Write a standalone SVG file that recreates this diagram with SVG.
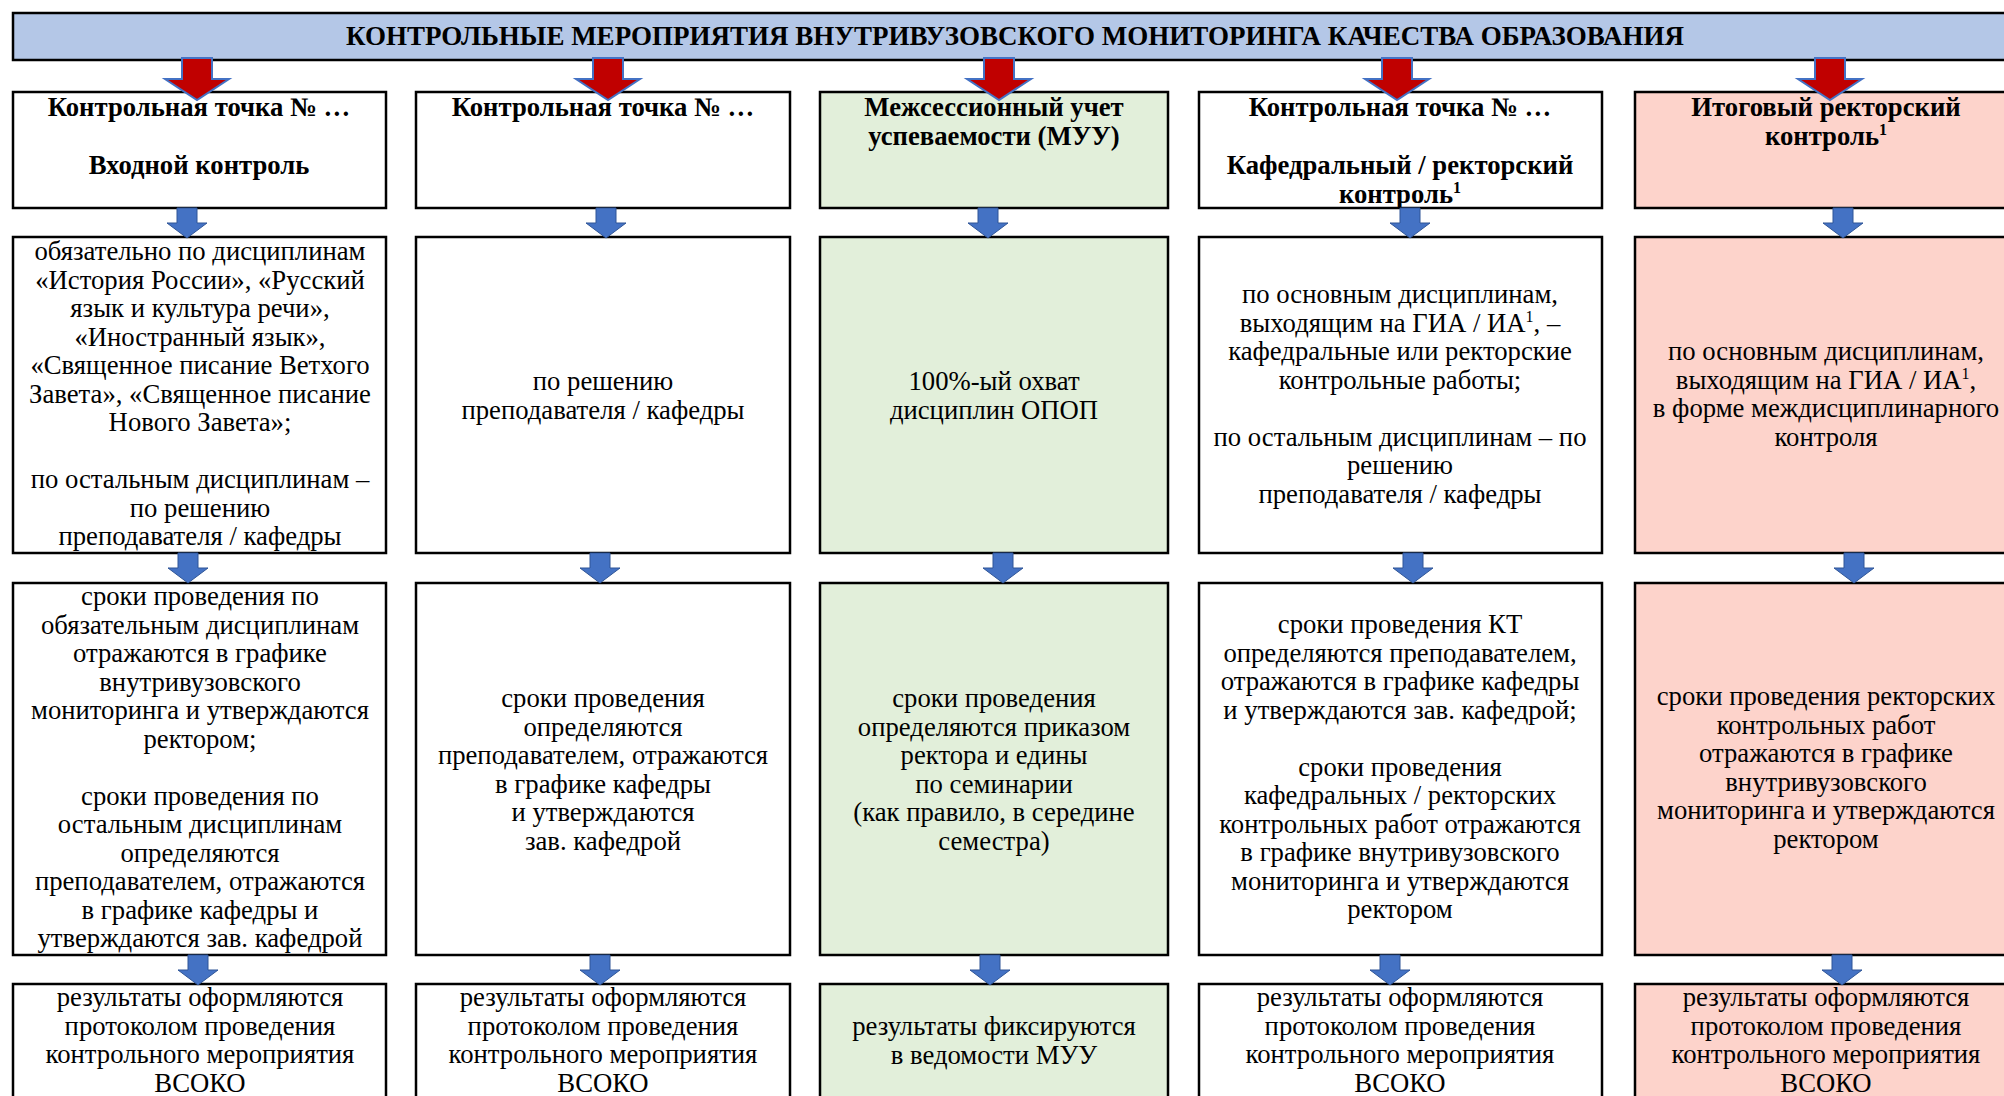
<svg xmlns="http://www.w3.org/2000/svg" width="2004" height="1096" viewBox="0 0 2004 1096">
<style>
.box{stroke:#000;stroke-width:2.5}
.w{fill:#fff}.g{fill:#E2EFDA}.p{fill:#FDD3CB}.h{fill:#B4C7E7}
text{font-family:"Liberation Serif","Times New Roman",serif;font-size:26.7px;fill:#000;text-anchor:middle}
.b{font-weight:bold}
.t{font-weight:bold;font-size:27px}
.sup{font-size:16px}
.ra{fill:#C00000;stroke:#4472C4;stroke-width:2}
.ba{fill:#4472C4;stroke:#2F5597;stroke-width:1}
</style>
<defs>
<path id="redArrow" class="ra" d="M-15,0 H15 V21 H32 L0,42 L-32,21 H-15 Z"/>
<path id="blueArrow" class="ba" d="M-10,0 H10 V15 H20 L0,30 L-20,15 H-10 Z"/>
</defs>
<rect width="2004" height="1096" fill="#fff"/>

<g id="header">
<rect class="box h" x="13" y="13" width="2010" height="47"/>
<text class="t" x="1015" y="45">КОНТРОЛЬНЫЕ МЕРОПРИЯТИЯ ВНУТРИВУЗОВСКОГО МОНИТОРИНГА КАЧЕСТВА ОБРАЗОВАНИЯ</text>
</g>

<!-- Column 1 -->
<g id="c1r1">
<rect class="box w" x="13" y="92" width="373" height="116"/>
<text class="b"><tspan x="199" y="116">Контрольная точка № …</tspan><tspan x="199" y="174">Входной контроль</tspan></text>
</g>
<g id="c1r2">
<rect class="box w" x="13" y="237" width="373" height="316"/>
<text><tspan x="200" y="260">обязательно по дисциплинам</tspan><tspan x="200" y="288.5">«История России», «Русский</tspan><tspan x="200" y="317">язык и культура речи»,</tspan><tspan x="200" y="345.5">«Иностранный язык»,</tspan><tspan x="200" y="374">«Священное писание Ветхого</tspan><tspan x="200" y="402.5">Завета», «Священное писание</tspan><tspan x="200" y="431">Нового Завета»;</tspan><tspan x="200" y="488">по остальным дисциплинам –</tspan><tspan x="200" y="516.5">по решению</tspan><tspan x="200" y="545">преподавателя / кафедры</tspan></text>
</g>
<g id="c1r3">
<rect class="box w" x="13" y="583" width="373" height="372"/>
<text><tspan x="200" y="605">сроки проведения по</tspan><tspan x="200" y="633.5">обязательным дисциплинам</tspan><tspan x="200" y="662">отражаются в графике</tspan><tspan x="200" y="690.5">внутривузовского</tspan><tspan x="200" y="719">мониторинга и утверждаются</tspan><tspan x="200" y="747.5">ректором;</tspan><tspan x="200" y="804.5">сроки проведения по</tspan><tspan x="200" y="833">остальным дисциплинам</tspan><tspan x="200" y="861.5">определяются</tspan><tspan x="200" y="890">преподавателем, отражаются</tspan><tspan x="200" y="918.5">в графике кафедры и</tspan><tspan x="200" y="947">утверждаются зав. кафедрой</tspan></text>
</g>
<g id="c1r4">
<rect class="box w" x="13" y="984" width="373" height="130"/>
<text><tspan x="200" y="1006">результаты оформляются</tspan><tspan x="200" y="1034.5">протоколом проведения</tspan><tspan x="200" y="1063">контрольного мероприятия</tspan><tspan x="200" y="1091.5">ВСОКО</tspan></text>
</g>

<!-- Column 2 -->
<g id="c2r1">
<rect class="box w" x="416" y="92" width="374" height="116"/>
<text class="b"><tspan x="603" y="116">Контрольная точка № …</tspan></text>
</g>
<g id="c2r2">
<rect class="box w" x="416" y="237" width="374" height="316"/>
<text><tspan x="603" y="390">по решению</tspan><tspan x="603" y="418.5">преподавателя / кафедры</tspan></text>
</g>
<g id="c2r3">
<rect class="box w" x="416" y="583" width="374" height="372"/>
<text><tspan x="603" y="707">сроки проведения</tspan><tspan x="603" y="735.5">определяются</tspan><tspan x="603" y="764">преподавателем, отражаются</tspan><tspan x="603" y="792.5">в графике кафедры</tspan><tspan x="603" y="821">и утверждаются</tspan><tspan x="603" y="849.5">зав. кафедрой</tspan></text>
</g>
<g id="c2r4">
<rect class="box w" x="416" y="984" width="374" height="130"/>
<text><tspan x="603" y="1006">результаты оформляются</tspan><tspan x="603" y="1034.5">протоколом проведения</tspan><tspan x="603" y="1063">контрольного мероприятия</tspan><tspan x="603" y="1091.5">ВСОКО</tspan></text>
</g>

<!-- Column 3 -->
<g id="c3r1">
<rect class="box g" x="820" y="92" width="348" height="116"/>
<text class="b"><tspan x="994" y="116">Межсессионный учет</tspan><tspan x="994" y="145">успеваемости (МУУ)</tspan></text>
</g>
<g id="c3r2">
<rect class="box g" x="820" y="237" width="348" height="316"/>
<text><tspan x="994" y="390">100%-ый охват</tspan><tspan x="994" y="418.5">дисциплин ОПОП</tspan></text>
</g>
<g id="c3r3">
<rect class="box g" x="820" y="583" width="348" height="372"/>
<text><tspan x="994" y="707">сроки проведения</tspan><tspan x="994" y="735.5">определяются приказом</tspan><tspan x="994" y="764">ректора и едины</tspan><tspan x="994" y="792.5">по семинарии</tspan><tspan x="994" y="821">(как правило, в середине</tspan><tspan x="994" y="849.5">семестра)</tspan></text>
</g>
<g id="c3r4">
<rect class="box g" x="820" y="984" width="348" height="130"/>
<text><tspan x="994" y="1035">результаты фиксируются</tspan><tspan x="994" y="1063.5">в ведомости МУУ</tspan></text>
</g>

<!-- Column 4 -->
<g id="c4r1">
<rect class="box w" x="1199" y="92" width="403" height="116"/>
<text class="b"><tspan x="1400" y="116">Контрольная точка № …</tspan><tspan x="1400" y="174">Кафедральный / ректорский</tspan><tspan x="1400" y="203">контроль</tspan><tspan class="sup" dy="-10">1</tspan></text>
</g>
<g id="c4r2">
<rect class="box w" x="1199" y="237" width="403" height="316"/>
<text><tspan x="1400" y="303">по основным дисциплинам,</tspan><tspan x="1400" y="331.5">выходящим на ГИА / ИА</tspan><tspan class="sup" dy="-10">1</tspan><tspan dy="10">, –</tspan><tspan x="1400" y="360">кафедральные или ректорские</tspan><tspan x="1400" y="388.5">контрольные работы;</tspan><tspan x="1400" y="445.5">по остальным дисциплинам – по</tspan><tspan x="1400" y="474">решению</tspan><tspan x="1400" y="502.5">преподавателя / кафедры</tspan></text>
</g>
<g id="c4r3">
<rect class="box w" x="1199" y="583" width="403" height="372"/>
<text><tspan x="1400" y="633">сроки проведения КТ</tspan><tspan x="1400" y="661.5">определяются преподавателем,</tspan><tspan x="1400" y="690">отражаются в графике кафедры</tspan><tspan x="1400" y="718.5">и утверждаются зав. кафедрой;</tspan><tspan x="1400" y="775.5">сроки проведения</tspan><tspan x="1400" y="804">кафедральных / ректорских</tspan><tspan x="1400" y="832.5">контрольных работ отражаются</tspan><tspan x="1400" y="861">в графике внутривузовского</tspan><tspan x="1400" y="889.5">мониторинга и утверждаются</tspan><tspan x="1400" y="918">ректором</tspan></text>
</g>
<g id="c4r4">
<rect class="box w" x="1199" y="984" width="403" height="130"/>
<text><tspan x="1400" y="1006">результаты оформляются</tspan><tspan x="1400" y="1034.5">протоколом проведения</tspan><tspan x="1400" y="1063">контрольного мероприятия</tspan><tspan x="1400" y="1091.5">ВСОКО</tspan></text>
</g>

<!-- Column 5 -->
<g id="c5r1">
<rect class="box p" x="1635" y="92" width="383" height="116"/>
<text class="b"><tspan x="1826" y="116">Итоговый ректорский</tspan><tspan x="1826" y="145">контроль</tspan><tspan class="sup" dy="-10">1</tspan></text>
</g>
<g id="c5r2">
<rect class="box p" x="1635" y="237" width="383" height="316"/>
<text><tspan x="1826" y="360">по основным дисциплинам,</tspan><tspan x="1826" y="388.5">выходящим на ГИА / ИА</tspan><tspan class="sup" dy="-10">1</tspan><tspan dy="10">,</tspan><tspan x="1826" y="417">в форме междисциплинарного</tspan><tspan x="1826" y="445.5">контроля</tspan></text>
</g>
<g id="c5r3">
<rect class="box p" x="1635" y="583" width="383" height="372"/>
<text><tspan x="1826" y="705">сроки проведения ректорских</tspan><tspan x="1826" y="733.5">контрольных работ</tspan><tspan x="1826" y="762">отражаются в графике</tspan><tspan x="1826" y="790.5">внутривузовского</tspan><tspan x="1826" y="819">мониторинга и утверждаются</tspan><tspan x="1826" y="847.5">ректором</tspan></text>
</g>
<g id="c5r4">
<rect class="box p" x="1635" y="984" width="383" height="130"/>
<text><tspan x="1826" y="1006">результаты оформляются</tspan><tspan x="1826" y="1034.5">протоколом проведения</tspan><tspan x="1826" y="1063">контрольного мероприятия</tspan><tspan x="1826" y="1091.5">ВСОКО</tspan></text>
</g>

<g id="connectors">
<use href="#redArrow" x="197" y="58"/>
<use href="#redArrow" x="608" y="58"/>
<use href="#redArrow" x="999" y="58"/>
<use href="#redArrow" x="1397" y="58"/>
<use href="#redArrow" x="1830" y="58"/>
<use href="#blueArrow" x="187" y="208"/>
<use href="#blueArrow" x="606" y="208"/>
<use href="#blueArrow" x="988" y="208"/>
<use href="#blueArrow" x="1410" y="208"/>
<use href="#blueArrow" x="1843" y="208"/>
<use href="#blueArrow" x="188" y="553"/>
<use href="#blueArrow" x="600" y="553"/>
<use href="#blueArrow" x="1003" y="553"/>
<use href="#blueArrow" x="1413" y="553"/>
<use href="#blueArrow" x="1854" y="553"/>
<use href="#blueArrow" x="198" y="955"/>
<use href="#blueArrow" x="600" y="955"/>
<use href="#blueArrow" x="990" y="955"/>
<use href="#blueArrow" x="1390" y="955"/>
<use href="#blueArrow" x="1842" y="955"/>
</g>
</svg>
